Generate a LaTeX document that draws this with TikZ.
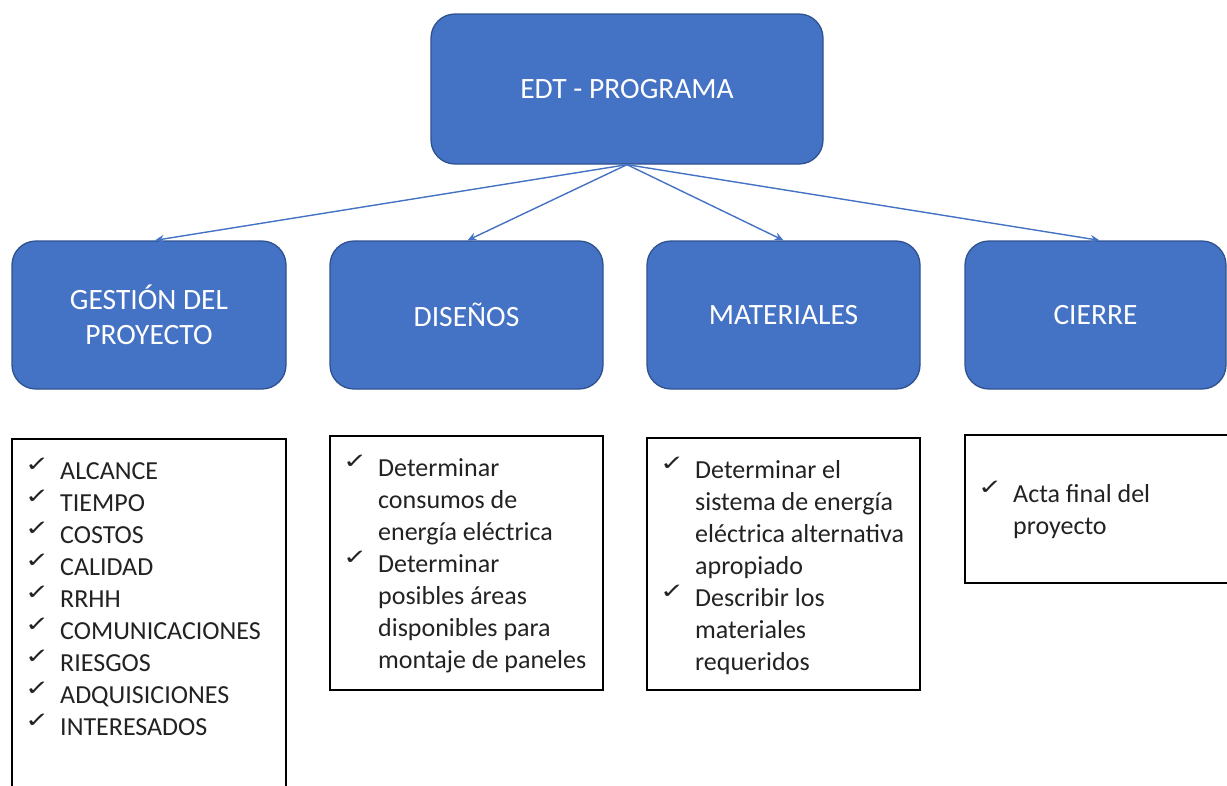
\documentclass[tikz,border=0pt]{standalone}
\usepackage{fontspec}
\usepackage{graphicx}
\setmainfont{Carlito}
\newfontfamily\symfont{DejaVu Sans}
\usetikzlibrary{arrows.meta}
\definecolor{obl}{HTML}{4472C4}
\definecolor{obd}{HTML}{2F528F}
\definecolor{txt}{HTML}{222222}
\newcommand{\ck}{\makebox[35pt][l]{\raisebox{8pt}{\scalebox{1.7}[1.25]{\symfont\fontsize{17}{17}\selectfont ✓}}}}
\newcommand{\ind}{\hspace*{35pt}}
\begin{document}
\begin{tikzpicture}[x=1pt,y=-1pt,
  blk/.style={draw=obd, line width=1.3pt, fill=obl, rounded corners=24pt, text=white,
    font=\fontsize{29.5}{35}\selectfont, align=center, inner sep=0pt},
  lst/.style={draw=black, line width=1.3pt, inner sep=0pt},
  conn/.style={draw=obl, line width=1.4pt, -{Stealth[length=9pt,width=8pt]}},
  txtn/.style={anchor=base west, inner sep=0pt, text=txt}
]
\clip (0,0) rectangle (1227,785);
% top
\node[blk, minimum width=392pt, minimum height=150pt] (top) at (627,89) {EDT - PROGRAMA};
% level 2
\node[blk, minimum width=274pt, minimum height=148pt] (g1) at (149,315) {GESTIÓN DEL\\PROYECTO};
\node[blk, minimum width=273pt, minimum height=148pt] (g2) at (466.5,315) {DISEÑOS};
\node[blk, minimum width=273pt, minimum height=148pt] (g3) at (783.5,315) {MATERIALES};
\node[blk, minimum width=261pt, minimum height=148pt] (g4) at (1095.5,315) {CIERRE};
% connectors
\draw[conn] (top.south) -- ([xshift=6pt]g1.north);
\draw[conn] (top.south) -- ([xshift=1pt]g2.north);
\draw[conn] (top.south) -- (g3.north);
\draw[conn] (top.south) -- ([xshift=4pt]g4.north);
% list boxes
\node[lst, minimum width=274pt, minimum height=361pt] (b1) at (149,619.5) {};
\node[lst, minimum width=273pt, minimum height=254pt] (b2) at (466.5,563) {};
\node[lst, minimum width=273pt, minimum height=252pt] (b3) at (783.5,564) {};
\node[lst, minimum width=275pt, minimum height=148pt] (b4) at (1102.5,509) {};
% list texts
\node[txtn] (t1) at (25,479) {\parbox[t]{255pt}{\fontsize{26}{32}\selectfont
\ck ALCANCE\\
\ck TIEMPO\\
\ck COSTOS\\
\ck CALIDAD\\
\ck RRHH\\
\ck COMUNICACIONES\\
\ck RIESGOS\\
\ck ADQUISICIONES\\
\ck INTERESADOS}};
\node[txtn] (t2) at (343,476) {\parbox[t]{255pt}{\fontsize{26}{32}\selectfont
\ck Determinar\\
\ind consumos de\\
\ind energía eléctrica\\
\ck Determinar\\
\ind posibles áreas\\
\ind disponibles para\\
\ind montaje de paneles}};
\node[txtn] (t3) at (660,478) {\parbox[t]{255pt}{\fontsize{26}{32}\selectfont
\ck Determinar el\\
\ind sistema de energía\\
\ind eléctrica alternativa\\
\ind apropiado\\
\ck Describir los\\
\ind materiales\\
\ind requeridos}};
\node[txtn] (t4) at (978,502) {\parbox[t]{240pt}{\fontsize{26}{32}\selectfont
\ck Acta final del\\
\ind proyecto}};
\end{tikzpicture}
\end{document}
